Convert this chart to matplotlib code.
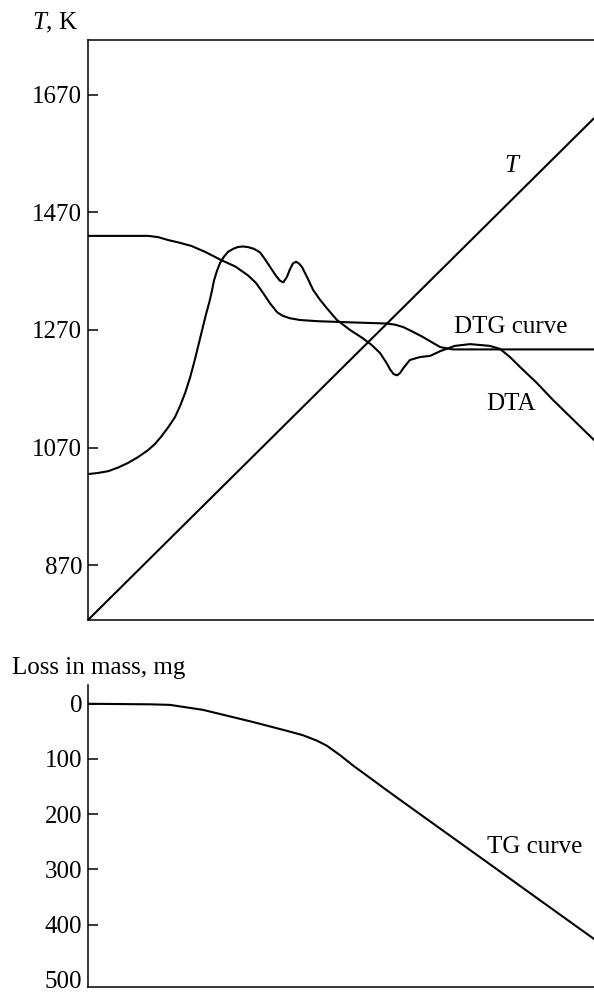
import matplotlib.pyplot as plt

# thermogram: temperature programme, DTA, DTG (top) and TG (bottom)
plt.rcParams['font.family'] = ['Liberation Serif', 'DejaVu Serif']
plt.rcParams['mathtext.fontset'] = 'custom'
plt.rcParams['mathtext.rm'] = 'Liberation Serif'
plt.rcParams['mathtext.it'] = 'Liberation Serif:italic'

FS = 18

# time axis runs 0..100 (arbitrary units, no scale drawn)
t_line = [0, 100]
T_line = [777, 1630]

dta_t = [0, 2.0, 4.0, 5.9, 7.9, 9.9, 11.9, 13.2, 14.4, 15.8, 17.2, 18.2,
         19.2, 20.2, 21.1, 21.9, 22.7, 23.3, 24.0, 24.5, 24.9, 25.5, 26.1,
         26.9, 27.7, 28.7, 29.6, 30.6, 31.6, 32.8, 34.0, 35.0, 36.0, 37.0,
         37.9, 38.6, 39.3, 39.9, 40.5, 41.1, 41.7, 42.3, 43.4, 44.5, 45.8,
         47.2, 49.2, 51.8, 54.3, 56.0, 57.7, 59.0, 59.7, 60.4, 61.1, 61.7,
         62.3, 63.6, 65.6, 67.6, 69.6, 72.5, 75.5, 79.4, 81.4, 83.4, 85.4,
         88.7, 91.9, 100]
dta_T = [1025, 1027, 1030, 1036, 1044, 1054, 1066, 1076, 1088, 1104, 1122, 1141,
         1163, 1190, 1219, 1247, 1275, 1296, 1318, 1337, 1354, 1371, 1384,
         1395, 1403, 1408, 1411, 1412, 1411, 1408, 1402, 1390, 1377, 1364,
         1354, 1351, 1360, 1373, 1383, 1386, 1383, 1377, 1358, 1338, 1322,
         1307, 1287, 1270, 1256, 1245, 1231, 1214, 1203, 1195, 1193, 1197,
         1205, 1219, 1224, 1226, 1234, 1243, 1246, 1243, 1238, 1224, 1207,
         1180, 1151, 1083]

dtg_t = [0, 11.9, 13.8, 15.8, 17.8, 20.4, 23.1, 26.3, 29.1, 31.6, 33.2, 34.6,
         36.0, 37.4, 38.5, 39.9, 41.9, 45.3, 51.8, 59.1, 60.7, 62.3, 64.2,
         66.2, 67.8, 69.6, 70.8, 72.1, 100]
dtg_T = [1430, 1430, 1428, 1423, 1419, 1413, 1403, 1389, 1378, 1363, 1350, 1333,
         1315, 1300, 1294, 1290, 1287, 1285, 1283, 1281, 1279, 1275, 1267,
         1258, 1250, 1241, 1239, 1237, 1237]

tg_t = [0, 12.3, 16.2, 22.7, 32.6, 39.3, 42.5, 45.3, 47.2, 49.8, 52.4, 55.7,
        59.1, 67.6, 77.5, 85.4, 93.3, 100]
tg_mg = [0, 1, 2, 11, 33, 49, 57, 67, 76, 93, 112, 134,
         157, 213, 278, 330, 382, 426]

T_ticks = [870, 1070, 1270, 1470, 1670]
mg_ticks = [0, 100, 200, 300, 400, 500]

fig = plt.figure(figsize=(5.94, 9.97), dpi=100)

ax1 = fig.add_axes([88 / 594, 1 - 620 / 997, 506 / 594, 580 / 997])
ax2 = fig.add_axes([88 / 594, 1 - 987 / 997, 506 / 594, 302 / 997])

style = dict(color='black', lw=1.5, solid_joinstyle='round', solid_capstyle='round')
ax1.plot(t_line, T_line, **style)
ax1.plot(dta_t, dta_T, **style)
ax1.plot(dtg_t, dtg_T, **style)
ax1.set_xlim(0, 100)
ax1.set_ylim(777, 1763)
ax1.set_yticks(T_ticks)
ax1.set_xticks([])
ax1.spines['right'].set_visible(False)

ax2.plot(tg_t, tg_mg, **style)
ax2.set_xlim(0, 100)
ax2.set_ylim(513, -34)
ax2.set_yticks(mg_ticks)
ax2.set_xticks([])
ax2.spines['right'].set_visible(False)
ax2.spines['top'].set_visible(False)
ax2.yaxis.get_major_ticks()[-1].tick1line.set_visible(False)

for ax in (ax1, ax2):
    for sp in ax.spines.values():
        sp.set_linewidth(1.1)
    ax.tick_params(axis='y', direction='in', length=7, width=1.1,
                   pad=4.3, labelsize=FS)

# curve labels
ax1.text(84, 1538, r'$T$', fontsize=FS, ha='center', va='baseline')
ax1.text(83.6, 1265, 'DTG curve', fontsize=FS, ha='center', va='baseline')
ax1.text(83.6, 1134, 'DTA', fontsize=FS, ha='center', va='baseline')
ax2.text(88.3, 270, 'TG curve', fontsize=FS, ha='center', va='baseline')

# axis titles
fig.text(32 / 594, 1 - 29 / 997, r'$T$, K', fontsize=FS, ha='left', va='baseline')
fig.text(12 / 594, 1 - 674 / 997, 'Loss in mass, mg', fontsize=FS,
         ha='left', va='baseline')

fig.savefig('out.png', dpi=100)
